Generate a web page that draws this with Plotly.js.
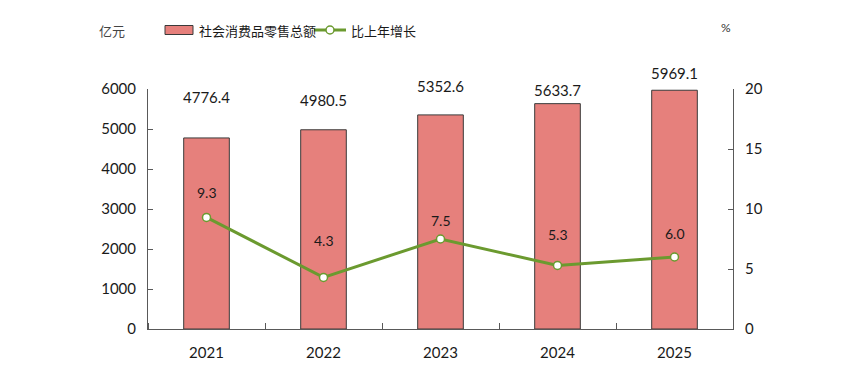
<!DOCTYPE html>
<html><head><meta charset="utf-8">
<script src="https://cdn.plot.ly/plotly-3.0.1.min.js"></script>
<style>html,body{margin:0;padding:0;background:#fff}#c{width:862px;height:388px}</style>
</head><body><div id="c"></div>
<script>
const years = ['2021','2022','2023','2024','2025'];
const sales = [4776.4, 4980.5, 5352.6, 5633.7, 5969.1];
const growth = [9.3, 4.3, 7.5, 5.3, 6.0];
const salesName = '社会消费品零售总额';
const growthName = '比上年增长';
const leftUnit = '亿元';
const rightUnit = '%';

const barColor = '#E6807C';
const lineColor = '#6B9A2F';
const axisColor = '#595959';
const numFont = 'Lato, "Open Sans", sans-serif';
const cjkFont = '"Noto Sans CJK SC", sans-serif';

// label offsets in px (styling)
const barLabelShift = [41, 30, 29, 14, 17];
const lineLabelShift = [25, 37, 19, 31, 24];

const L = 148, R = 733, T = 89, B = 329, W = 862, H = 388;
const px = v => (v - L) / (R - L);
const py = v => (B - v) / (B - T);
const idx = years.map((_, i) => i);

const traces = [
  {type:'bar', x:idx, y:sales, name:salesName, width:0.39, marker:{color:barColor, line:{color:'#3a3a3a', width:1}}, hoverinfo:'skip'},
  {type:'scatter', mode:'lines+markers', x:idx, y:growth, yaxis:'y2', name:growthName,
   line:{color:lineColor, width:3}, marker:{size:8, color:'#ffffff', line:{color:lineColor, width:1.5}}, hoverinfo:'skip'}
];

const annotations = [];
idx.forEach(i=>{
  annotations.push({x:i, y:sales[i], xref:'x', yref:'y', text:sales[i].toFixed(1), showarrow:false,
    yanchor:'middle', yshift:barLabelShift[i], font:{family:numFont, size:15, color:'#1a1a1a'}});
  annotations.push({x:i, y:growth[i], xref:'x', yref:'y2', text:growth[i].toFixed(1), showarrow:false,
    yanchor:'middle', yshift:lineLabelShift[i], font:{family:numFont, size:14, color:'#1a1a1a'}});
});
annotations.push({xref:'paper', yref:'paper', x:px(97), y:py(31), xanchor:'left', yanchor:'middle', text:leftUnit, showarrow:false, font:{family:cjkFont, size:13, color:'#444'}});
annotations.push({xref:'paper', yref:'paper', x:px(726), y:py(27), xanchor:'center', yanchor:'middle', text:rightUnit, showarrow:false, font:{family:numFont, size:12, color:'#333'}});
annotations.push({xref:'paper', yref:'paper', x:px(197), y:py(30), xanchor:'left', yanchor:'middle', text:salesName, showarrow:false, font:{family:cjkFont, size:13, color:'#1a1a1a'}});
annotations.push({xref:'paper', yref:'paper', x:px(349), y:py(30), xanchor:'left', yanchor:'middle', text:growthName, showarrow:false, font:{family:cjkFont, size:13, color:'#1a1a1a'}});

const shapes = [
  {type:'rect', xref:'paper', yref:'paper', x0:px(165), x1:px(193), y0:py(34.5), y1:py(25.5), fillcolor:barColor, line:{color:'#3a3a3a', width:1}},
  {type:'line', xref:'paper', yref:'paper', x0:px(314), x1:px(346), y0:py(30), y1:py(30), line:{color:lineColor, width:3}},
  {type:'circle', xref:'paper', yref:'paper', x0:px(326), x1:px(334), y0:py(34), y1:py(26), fillcolor:'#ffffff', line:{color:lineColor, width:1.5}}
];

const layout = {
  width:W, height:H, margin:{l:L, r:W-R, t:T, b:H-B, pad:0},
  paper_bgcolor:'#fff', plot_bgcolor:'#fff', showlegend:false,
  font:{family:numFont, size:14, color:'#1a1a1a'},
  xaxis:{type:'linear', range:[-0.5, years.length-0.5], tickvals:idx, ticktext:years, ticks:'',
    minor:{tick0:-0.5, dtick:1, ticks:'inside', ticklen:6, tickcolor:axisColor, showgrid:false},
    showline:true, linecolor:axisColor, linewidth:1, ticklabelstandoff:10,
    showgrid:false, zeroline:false, tickfont:{family:numFont, size:15, color:'#1a1a1a'}},
  yaxis:{range:[0,6000], dtick:1000, showline:true, linecolor:axisColor, linewidth:1, ticks:'inside', ticklen:5, tickcolor:axisColor,
    ticklabelstandoff:8,
    showgrid:false, zeroline:false, tickfont:{family:numFont, size:15, color:'#1a1a1a'}},
  yaxis2:{overlaying:'y', side:'right', range:[0,20], dtick:5, showline:true, linecolor:axisColor, linewidth:1, ticks:'inside', ticklen:5, tickcolor:axisColor,
    ticklabelstandoff:8,
    showgrid:false, zeroline:false, tickfont:{family:numFont, size:15, color:'#1a1a1a'}},
  annotations, shapes
};
Plotly.newPlot('c', traces, layout, {staticPlot:true, displayModeBar:false});
</script></body></html>
